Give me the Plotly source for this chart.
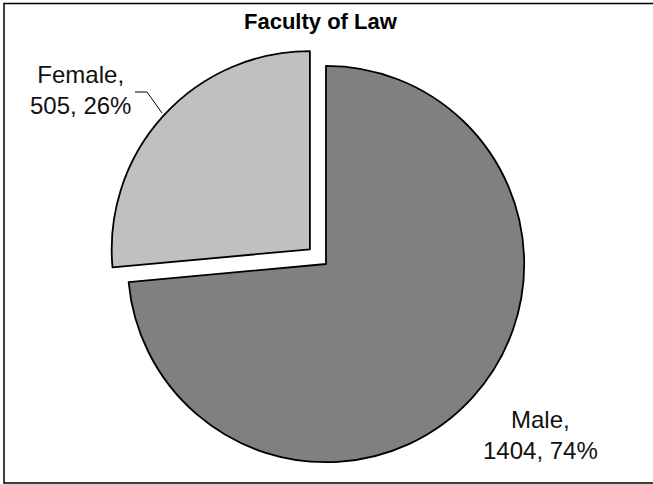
import plotly.graph_objects as go

title_text = "Faculty of Law"
categories = ["Male", "Female"]
values = [1404, 505]
colors = ["#808080", "#C0C0C0"]
pulls = [0, 0.11]

W, H = 653, 484
total = sum(values)
label_texts = [f"{c},<br>{v}, {round(100 * v / total)}%" for c, v in zip(categories, values)]

fig = go.Figure()
fig.add_trace(go.Pie(
    labels=categories,
    values=values,
    sort=False,
    direction="clockwise",
    rotation=0,
    pull=pulls,
    marker=dict(colors=colors, line=dict(color="#000000", width=1.8)),
    textinfo="none",
    hoverinfo="label+value+percent",
    showlegend=False,
    domain=dict(x=[105 / W, 547 / W], y=[0, 1 - 44 / H]),
))

font_family = "Liberation Sans, Arial, sans-serif"

# title
fig.add_annotation(text=f"<b>{title_text}</b>", x=321 / W, y=1 - 22 / H, xref="paper", yref="paper",
                   showarrow=False, font=dict(family=font_family, size=22, color="#000000"),
                   xanchor="center", yanchor="middle")

# data labels
fig.add_annotation(text=label_texts[1], x=80 / W, y=1 - 90 / H, xref="paper", yref="paper",
                   showarrow=False, align="center",
                   font=dict(family=font_family, size=24, color="#111111"),
                   xanchor="center", yanchor="middle")
fig.add_annotation(text=label_texts[0], x=540 / W, y=1 - 435 / H, xref="paper", yref="paper",
                   showarrow=False, align="center",
                   font=dict(family=font_family, size=24, color="#111111"),
                   xanchor="center", yanchor="middle")

# leader line for Female label
fig.add_shape(type="path", xref="paper", yref="paper",
              path=f"M {135 / W} {1 - 92 / H} L {147 / W} {1 - 92 / H} L {162 / W} {1 - 113 / H}",
              line=dict(color="#000000", width=1))

# chart border
fig.add_shape(type="rect", xref="paper", yref="paper",
              x0=4 / W, x1=656 / W, y0=1 - 483 / H, y1=1 - 3.5 / H,
              line=dict(color="#000000", width=1.5), fillcolor="rgba(0,0,0,0)")

fig.update_layout(
    width=W, height=H,
    margin=dict(l=0, r=0, t=0, b=0),
    paper_bgcolor="#FFFFFF",
    plot_bgcolor="#FFFFFF",
)

fig.write_html("out.html",
               config={"displayModeBar": False},
               post_script="document.body.style.margin='0';document.body.style.overflow='hidden';")
